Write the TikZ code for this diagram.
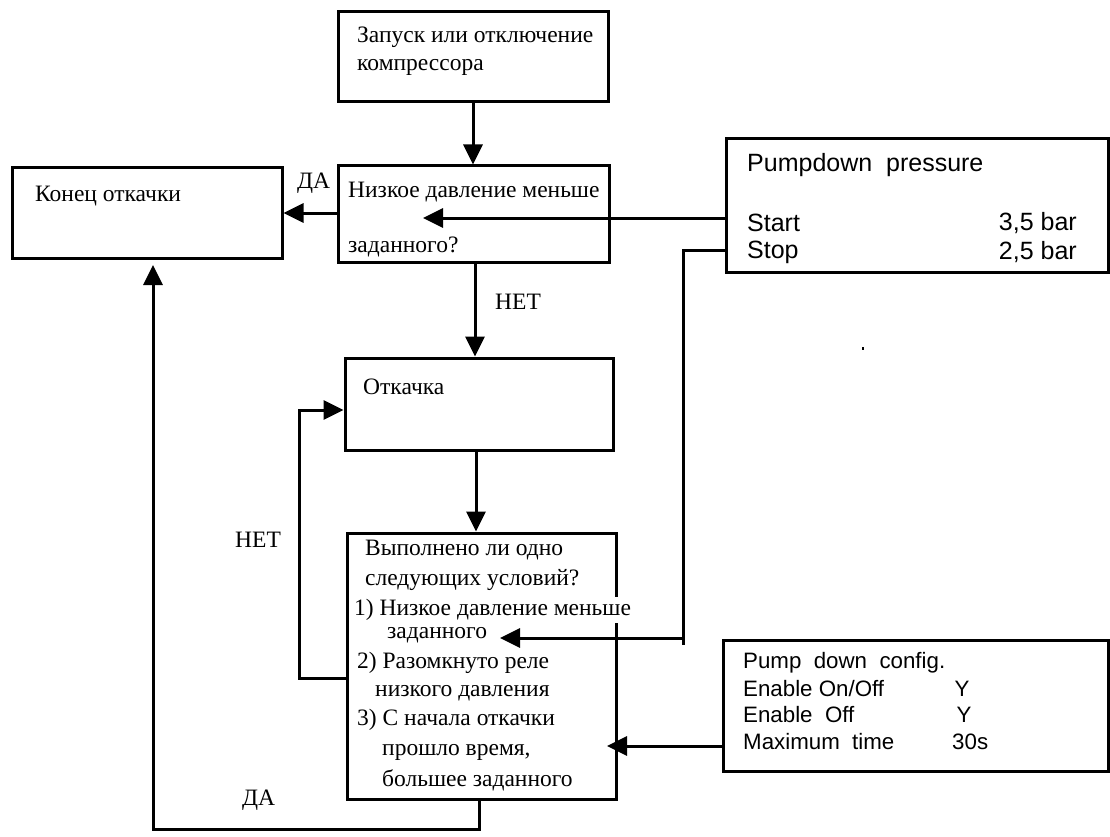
\documentclass[tikz,border=0pt]{standalone}
\usepackage{fontspec}
\setmainfont{Liberation Serif}
\newfontfamily\arialf{Liberation Sans}
\usetikzlibrary{arrows.meta}
\begin{document}
\begin{tikzpicture}[x=1pt,y=-1pt,
  box/.style={draw, line width=3pt, rectangle, inner sep=0pt},
  conn/.style={line width=3pt},
  arr/.style={line width=3pt, -{Triangle[length=20pt,width=19pt]}},
  sertxt/.style={font=\fontsize{23.5}{27}\selectfont, inner sep=0pt, anchor=west},
  sanstxt/.style={font=\arialf\fontsize{22.3}{26}\selectfont, inner sep=0pt, anchor=west},
  sansbig/.style={font=\arialf\fontsize{25}{29}\selectfont, inner sep=0pt, anchor=west},
]
\useasboundingbox (0,0) rectangle (1110,837);
\fill[white] (0,0) rectangle (1110,837);

% boxes
\node[box, minimum width=270pt, minimum height=90pt] (start) at (473,57) {};
\node[box, minimum width=271pt, minimum height=96pt] (q1) at (473.5,214) {};
\node[box, minimum width=270pt, minimum height=90pt] (end) at (147,213) {};
\node[box, minimum width=268pt, minimum height=92pt] (pump) at (479,404) {};
\node[box, minimum width=269pt, minimum height=266pt] (q2) at (481.5,666) {};
\node[box, minimum width=382pt, minimum height=133pt] (pp) at (917,205.5) {};
\node[box, minimum width=385pt, minimum height=131pt] (cfg) at (915.5,705.5) {};

% texts in boxes
\node[sertxt] (t1a) at (357,37) {Запуск или отключение};
\node[sertxt] (t1b) at (357,67) {компрессора};
\node[sertxt] (t2a) at (348,192) {Низкое давление меньше};
\node[sertxt] (t2b) at (348,247) {заданного?};
\node[sertxt] (t3) at (35,196) {Конец откачки};
\node[sertxt] (t4) at (363,387) {Откачка};

\node[sertxt] (q2l1) at (365,550) {Выполнено ли одно};
\node[sertxt] (q2l2) at (365,580) {следующих условий?};
\node[sertxt, fill=white, inner sep=2pt] (q2l3) at (352,610) {1) Низкое давление меньше};
\node[sertxt] (q2l4) at (387,635) {заданного};
\node[sertxt] (q2l5) at (357,663) {2) Разомкнуто реле};
\node[sertxt] (q2l6) at (375,693) {низкого давления};
\node[sertxt] (q2l7) at (357,720) {3) С начала откачки};
\node[sertxt] (q2l8) at (382,752) {прошло время,};
\node[sertxt] (q2l9) at (382,780) {большее заданного};

\node[sansbig] (pp1) at (747,165) {Pumpdown\ \ pressure};
\node[sansbig] (pp2) at (747,223) {Start};
\node[sansbig] (pp3) at (747,252) {Stop};
\node[sansbig, anchor=east] (pp4) at (1077,223) {3,5 bar};
\node[sansbig, anchor=east] (pp5) at (1077,252) {2,5 bar};

\node[sanstxt] (cf1) at (743,663) {Pump\ \ down\ \ config.};
\node[sanstxt] (cf2) at (743,689) {Enable On/Off};
\node[sanstxt] (cf3) at (743,715) {Enable\ \ Off};
\node[sanstxt] (cf4) at (743,742) {Maximum\ \ time};
\node[sanstxt, anchor=center] (cf5) at (962,689) {Y};
\node[sanstxt, anchor=center] (cf6) at (964,715) {Y};
\node[sanstxt] (cf7) at (952,742) {30s};

% labels
\node[sertxt] (lda1) at (297,183) {ДА};
\node[sertxt] (lnet1) at (495,302) {НЕТ};
\node[sertxt] (lnet2) at (235,540) {НЕТ};
\node[sertxt] (lda2) at (242,800) {ДА};

% coordinates
\coordinate (q1in) at (423,218);
\coordinate (q2in1) at (500,638);
\coordinate (q2in2) at (607,746);
\coordinate (endin) at (153,265);

% connectors
\draw[arr] (473,0 |- start.south) -- (473,0 |- q1.north);
\draw[arr] (q1.west |- 0,213) -- (end.east |- 0,213);
\draw[arr] (pp.west |- q1in) -- (q1in);
\draw[conn] (pp.west |- 0,250) -- (683,250) -- (683,645);
\draw[arr] (683,638) -- (q2in1);
\draw[arr] (cfg.west |- q2in2) -- (q2in2);
\draw[arr] (475,0 |- q1.south) -- (475,0 |- pump.north);
\draw[arr] (476,0 |- pump.south) -- (476,0 |- q2.north);
\draw[arr] (q2.west |- 0,678) -- (299,678) -- (299,410) -- (pump.west |- 0,410);
\draw[arr] (479,0 |- q2.south) -- (479,829) -- (153,829) -- (endin);

% stray speck
\fill (862,347) rectangle (864,350);
\end{tikzpicture}
\end{document}
